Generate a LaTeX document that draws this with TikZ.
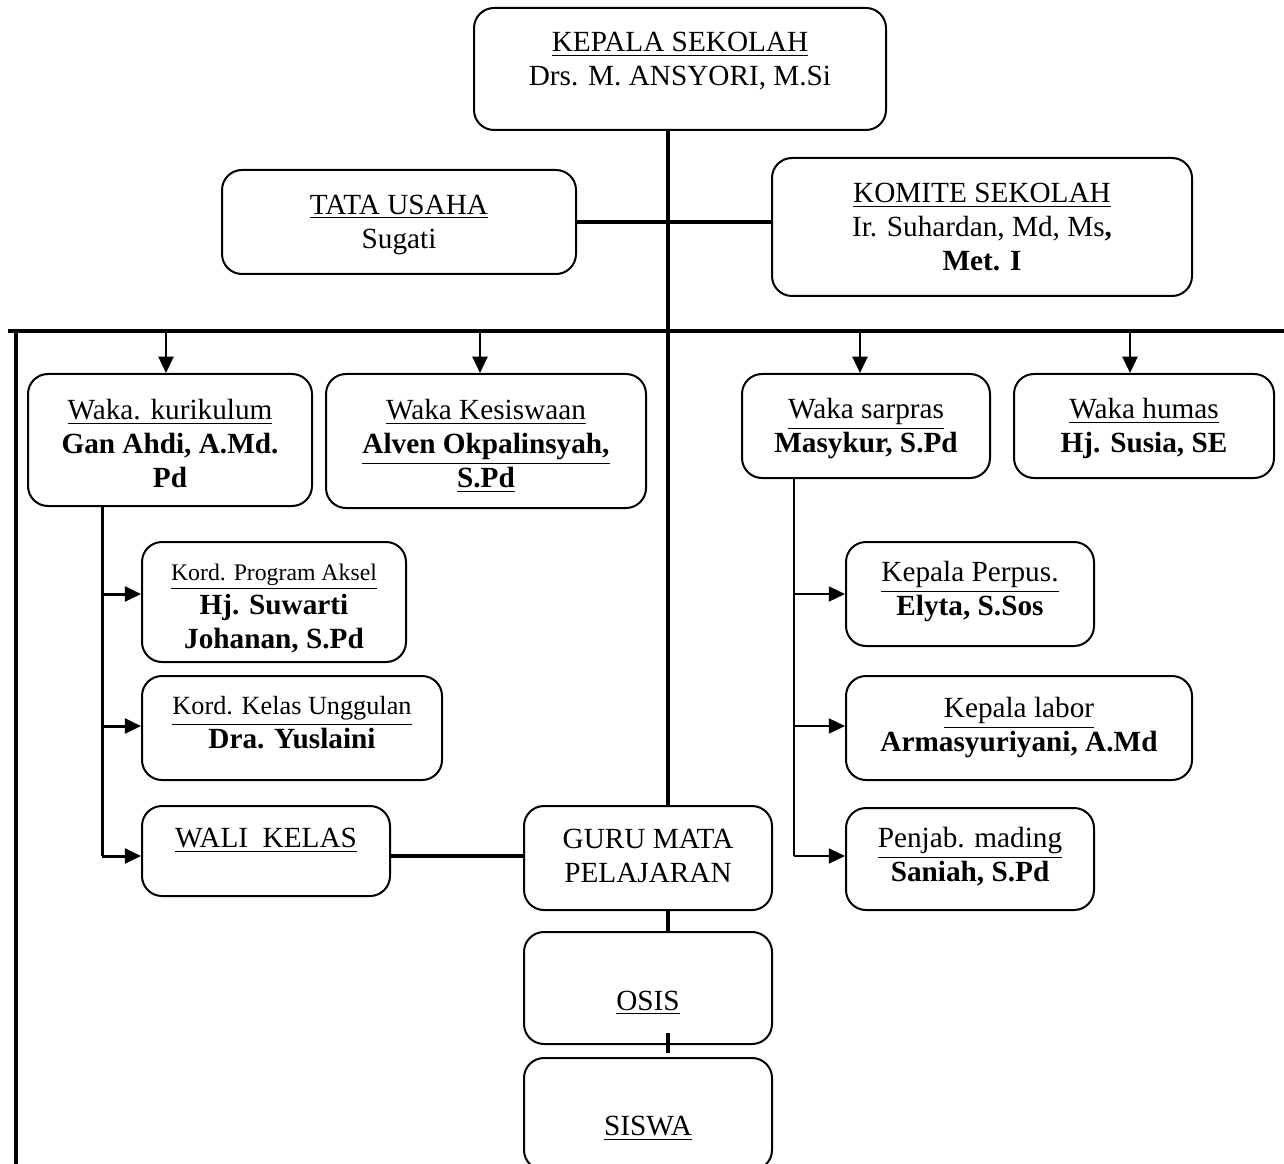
\documentclass[tikz,border=0pt]{standalone}
\usepackage{fontspec}
\setmainfont{Liberation Serif}
\usetikzlibrary{arrows.meta, fit, calc}

\tikzset{
	box/.style = {draw, rounded corners = 8pt, line width = 0.8pt, inner sep = 0pt},
	boxtext/.style = {align = center, inner sep = 0pt},
	main line/.style = {line width = 1.6pt},
	branch line/.style = {line width = 1.2pt},
	arr/.style = {line width = 0.8pt, -{Triangle[length = 6.5pt, width = 6pt]}}
}

\begin{document}
\begin{tikzpicture}[x = 0.4pt, y = -0.4pt, font = \fontsize{11.7}{13.6}\selectfont]
		\useasboundingbox (0,0) rectangle (1284,1164);
		
		%top
		\node [box, fit = {(474,8) (886,130)}, label = {[boxtext, yshift = 3pt]center:{\underline{KEPALA SEKOLAH}\\ Drs. M. ANSYORI, M.Si}}] (kepala) {};
		\node [box, fit = {(222,170) (576,274)}, label = {[boxtext, yshift = -1pt]center:{\underline{TATA USAHA}\\ Sugati}}] (tata) {};
		\node [box, fit = {(772,158) (1192,296)}, label = {[boxtext]center:{\underline{KOMITE SEKOLAH}\\ Ir. Suhardan, Md, Ms\textbf{,}\\ \textbf{Met. I}}}] (komite) {};
		
		%waka
		\node [box, fit = {(28,374) (312,506)}, label = {[boxtext, yshift = -1.5pt]center:{\underline{Waka. kurikulum}\\ \textbf{Gan Ahdi, A.Md.}\\ \textbf{Pd}}}] (kurikulum) {};
		\node [box, fit = {(326,374) (646,508)}, label = {[boxtext, yshift = -2pt]center:{\underline{Waka Kesiswaan}\\ \textbf{\underline{Alven Okpalinsyah,}}\\ \textbf{\underline{S.Pd}}}}] (kesiswaan) {};
		\node [box, fit = {(742,374) (990,478)}, label = {[boxtext, yshift = -1pt]center:{\underline{Waka sarpras}\\ \textbf{Masykur, S.Pd}}}] (sarpras) {};
		\node [box, fit = {(1014,374) (1274,478)}, label = {[boxtext, yshift = -1pt]center:{\underline{Waka humas}\\ \textbf{Hj. Susia, SE}}}] (humas) {};
		
		%kurikulum side
		\node [box, fit = {(142,542) (406,662)}, label = {[boxtext, yshift = -2.5pt]center:{{\fontsize{9.5}{11}\selectfont\underline{Kord. Program Aksel}}\\ \textbf{Hj. Suwarti}\\ \textbf{Johanan, S.Pd}}}] (aksel) {};
		\node [box, fit = {(142,676) (442,780)}, label = {[boxtext, yshift = 2pt]center:{{\fontsize{10.5}{12}\selectfont\underline{Kord. Kelas Unggulan}}\\ \textbf{Dra. Yuslaini}}}] (unggulan) {};
		\node [box, fit = {(142,806) (390,896)}, label = {[boxtext, yshift = 4pt]center:{\underline{WALI\ \ KELAS}}}] (wali) {};
		
		%middle
		\node [box, fit = {(524,806) (772,910)}, label = {[boxtext, yshift = 1pt]center:{GURU MATA\\ PELAJARAN}}] (guru) {};
		\node [box, fit = {(524,932) (772,1044)}, label = {[boxtext, yshift = -6pt]center:{\underline{OSIS}}}] (osis) {};
		\node [box, fit = {(524,1058) (772,1170)}, label = {[boxtext, yshift = -6pt]center:{\underline{SISWA}}}] (siswa) {};
		
		%sarpras side
		\node [box, fit = {(846,542) (1094,646)}, label = {[boxtext, yshift = 1pt]center:{\underline{Kepala Perpus.}\\ \textbf{Elyta, S.Sos}}}] (perpus) {};
		\node [box, fit = {(846,676) (1192,780)}, label = {[boxtext]center:{\underline{Kepala labor}\\ \textbf{Armasyuriyani, A.Md}}}] (labor) {};
		\node [box, fit = {(846,808) (1094,910)}, label = {[boxtext, yshift = 1pt]center:{\underline{Penjab. mading}\\ \textbf{Saniah, S.Pd}}}] (mading) {};
		
		%lines
		\coordinate (spine) at (668,0);
		\coordinate (bus left) at (8,331);
		\coordinate (bus right) at (1284,331);
		\coordinate (side top) at (16,331);
		\coordinate (side bottom) at (16,1164);
		
		\draw [main line] (bus left) -- (bus right);
		\draw [main line] (side top) -- (side bottom);
		\draw [main line] (kepala.south -| spine) -- (guru.north -| spine);
		\draw [main line] (tata.east) -- (tata.east -| komite.west);
		
		\foreach \n/\x in {kurikulum/166, kesiswaan/480, sarpras/860, humas/1130} {
			\coordinate (top \n) at (\x,331);
			\draw [arr] (top \n) -- (top \n |- \n.north);
		}
		
		\coordinate (k1) at (102,594);
		\coordinate (k2) at (102,726);
		\coordinate (k3) at (102,856);
		\draw [branch line] (kurikulum.south -| k3) -- (k3);
		\foreach \c/\n in {k1/aksel, k2/unggulan, k3/wali}
			\draw [branch line, -{Triangle[length = 6.5pt, width = 6pt]}] (\c) -- (\c -| \n.west);
		
		\coordinate (s1) at (794,594);
		\coordinate (s2) at (794,726);
		\coordinate (s3) at (794,856);
		\draw [line width = 0.8pt] (sarpras.south -| s3) -- (s3);
		\foreach \c/\n in {s1/perpus, s2/labor, s3/mading}
			\draw [arr] (\c) -- (\c -| \n.west);
		
		\draw [main line] (k3 -| wali.east) -- (k3 -| guru.west);
		\draw [main line] (guru.south -| spine) -- (osis.north -| spine);
		\draw [main line] ($ (osis.south -| spine) + (0,-12) $) -- ($ (siswa.north -| spine) + (0,-4) $);
	\end{tikzpicture}
\end{document}
